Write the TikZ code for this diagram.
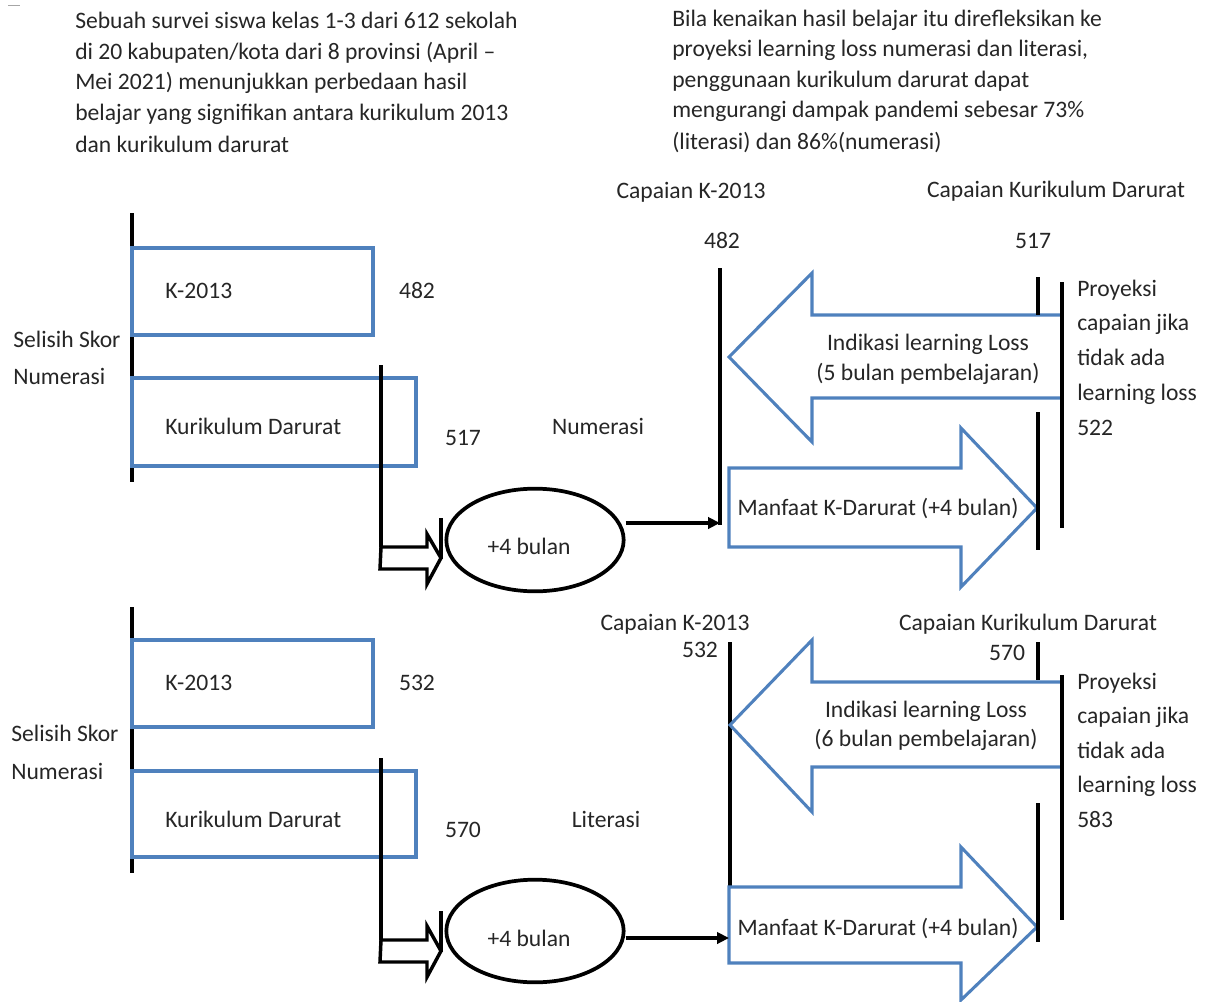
\documentclass[tikz,border=0pt]{standalone}
\usepackage{fontspec}
\setmainfont{Carlito}
\usetikzlibrary{arrows.meta,shapes.geometric}
\definecolor{ablue}{HTML}{4F81BD}
\definecolor{txtc}{HTML}{262626}
\begin{document}
\begin{tikzpicture}[x=0.75pt,y=-0.75pt,
  txt/.style={font=\fontsize{17.7}{21}\selectfont, inner sep=0pt, text=txtc},
  lb/.style={txt, anchor=base west},
  cb/.style={txt, anchor=base},
  bluebox/.style={draw=ablue, line width=2.3pt},
  bar/.style={draw=black, line width=2.9pt},
  blockarr/.style={draw=ablue, line width=2.3pt, fill=white, line join=miter},
  hollow/.style={draw=black, line width=2.6pt, fill=white, line join=miter},
  oval/.style={draw=black, line width=2.8pt, ellipse, minimum width=133pt, minimum height=77pt, inner sep=0pt},
  link/.style={draw=black, line width=3.3pt, -{Triangle[length=9pt,width=8.5pt]}},
]
\useasboundingbox (0,0) rectangle (1206,1002);
\draw[gray!70, line width=0.6pt] (8,5) -- (20,5);

% ---- header texts
\node[lb] (a1) at (75,29) {Sebuah survei siswa kelas 1-3 dari 612 sekolah};
\node[lb] (a2) at (75,60) {di 20 kabupaten/kota dari 8 provinsi (April –};
\node[lb] (a3) at (75,90) {Mei 2021) menunjukkan perbedaan hasil};
\node[lb] (a4) at (75,121) {belajar yang signifikan antara kurikulum 2013};
\node[lb] (a5) at (75,152) {dan kurikulum darurat};
\node[lb] (b1) at (672,27) {Bila kenaikan hasil belajar itu direfleksikan ke};
\node[lb] (b2) at (672,57) {proyeksi learning loss numerasi dan literasi,};
\node[lb] (b3) at (672,88) {penggunaan kurikulum darurat dapat};
\node[lb] (b4) at (672,118) {mengurangi dampak pandemi sebesar 73\%};
\node[lb] (b5) at (672,150) {(literasi) dan 86\%(numerasi)};

% ================= UPPER PANEL (Numerasi)
\draw[bar] (132,213) -- (132,482);
\draw[bluebox] (132,248) rectangle (373,335);
\draw[bluebox] (132,378) rectangle (416,466);
\node[lb] (u-k13) at (165,298) {K-2013};
\node[lb] (u-kd) at (165,434) {Kurikulum Darurat};
\node[cb] (u-v1) at (417,298) {482};
\node[cb] (u-v2) at (463,445) {517};
\node[lb] (u-s1) at (13,347) {Selisih Skor};
\node[lb] (u-s2) at (13,384) {Numerasi};
\node[cb] (u-num) at (598,434) {Numerasi};

\coordinate (u-drop) at (381,365);
\coordinate (u-corner) at (381,547);
\draw[bar] (u-drop) -- (u-corner);
\draw[hollow] (u-corner) -- (427,547) -- (427,534) -- (441,558) -- (427,584) -- (427,569) -- (380,569) -- cycle;
\draw[bar] (441,518) -- (441,559);
\node[oval] (u-oval) at (535,540) {};
\node[cb] (u-plus) at (529,554) {+4 bulan};

\coordinate (u-k13top) at (720,268);
\coordinate (u-k13bot) at (720,525);
\draw[bar] (u-k13top) -- (u-k13bot);
\draw[link] (u-oval.east |- 0,523) -- (u-k13bot |- 0,523);

\node[cb] (u-ck13) at (691,199) {Capaian K-2013};
\node[cb] (u-ck13v) at (722,248) {482};
\node[cb] (u-ckd) at (1056,197) {Capaian Kurikulum Darurat};
\node[cb] (u-ckdv) at (1033,248) {517};

\draw[blockarr] (1062,315) -- (812,315) -- (812,273) -- (729,357) -- (812,442) -- (812,398) -- (1062,398);
\draw[blockarr] (729,468) -- (961,468) -- (961,428) -- (1037,508) -- (961,587) -- (961,547) -- (729,547) -- cycle;
\draw[bar] (1038,277) -- (1038,315);
\draw[bar] (1038,412) -- (1038,550);
\draw[bar] (1062,282) -- (1062,528);
\node[cb] (u-ind1) at (928,350) {Indikasi learning Loss};
\node[cb] (u-ind2) at (928,380) {(5 bulan pembelajaran)};
\node[cb] (u-man) at (878,515) {Manfaat K-Darurat (+4 bulan)};
\node[lb] (u-p1) at (1077,296) {Proyeksi};
\node[lb] (u-p2) at (1077,330) {capaian jika};
\node[lb] (u-p3) at (1077,365) {tidak ada};
\node[lb] (u-p4) at (1077,400) {learning loss};
\node[lb] (u-p5) at (1077,435) {522};

% ================= LOWER PANEL (Literasi)
\draw[bar] (132,607) -- (132,873);
\draw[bluebox] (132,640) rectangle (373,727);
\draw[bluebox] (132,771) rectangle (416,857);
\node[lb] (l-k13) at (165,690) {K-2013};
\node[lb] (l-kd) at (165,827) {Kurikulum Darurat};
\node[cb] (l-v1) at (417,690) {532};
\node[cb] (l-v2) at (463,837) {570};
\node[lb] (l-s1) at (11,741) {Selisih Skor};
\node[lb] (l-s2) at (11,779) {Numerasi};
\node[cb] (l-lit) at (606,827) {Literasi};

\coordinate (l-drop) at (381,758);
\coordinate (l-corner) at (381,940);
\draw[bar] (l-drop) -- (l-corner);
\draw[hollow] (l-corner) -- (427,940) -- (427,926) -- (441,951) -- (427,977) -- (427,962) -- (380,962) -- cycle;
\draw[bar] (441,911) -- (441,952);
\node[oval] (l-oval) at (535,931) {};
\node[cb] (l-plus) at (529,946) {+4 bulan};

\node[cb] (l-ck13) at (675,630) {Capaian K-2013};
\node[cb] (l-ck13v) at (700,657) {532};
\node[cb] (l-ckd) at (1028,630) {Capaian Kurikulum Darurat};
\node[cb] (l-ckdv) at (1007,660) {570};

\coordinate (l-k13top) at (730,642);
\coordinate (l-k13bot) at (730,887);
\draw[bar] (l-k13top) -- (l-k13bot);
\draw[blockarr] (1062,682) -- (812,682) -- (812,640) -- (730,725) -- (812,812) -- (812,767) -- (1062,767);
\draw[blockarr] (729,887) -- (961,887) -- (961,847) -- (1037,927) -- (961,1000) -- (961,963) -- (729,963) -- cycle;
\coordinate (l-tail) at (729,938);
\draw[link] (l-oval.east |- 0,938) -- (l-tail);
\draw[bar] (1038,642) -- (1038,680);
\draw[bar] (1038,803) -- (1038,942);
\draw[bar] (1062,675) -- (1062,920);
\node[cb] (l-ind1) at (926,717) {Indikasi learning Loss};
\node[cb] (l-ind2) at (926,746) {(6 bulan pembelajaran)};
\node[cb] (l-man) at (878,935) {Manfaat K-Darurat (+4 bulan)};
\node[lb] (l-p1) at (1077,689) {Proyeksi};
\node[lb] (l-p2) at (1077,723) {capaian jika};
\node[lb] (l-p3) at (1077,758) {tidak ada};
\node[lb] (l-p4) at (1077,792) {learning loss};
\node[lb] (l-p5) at (1077,827) {583};
\end{tikzpicture}
\end{document}
